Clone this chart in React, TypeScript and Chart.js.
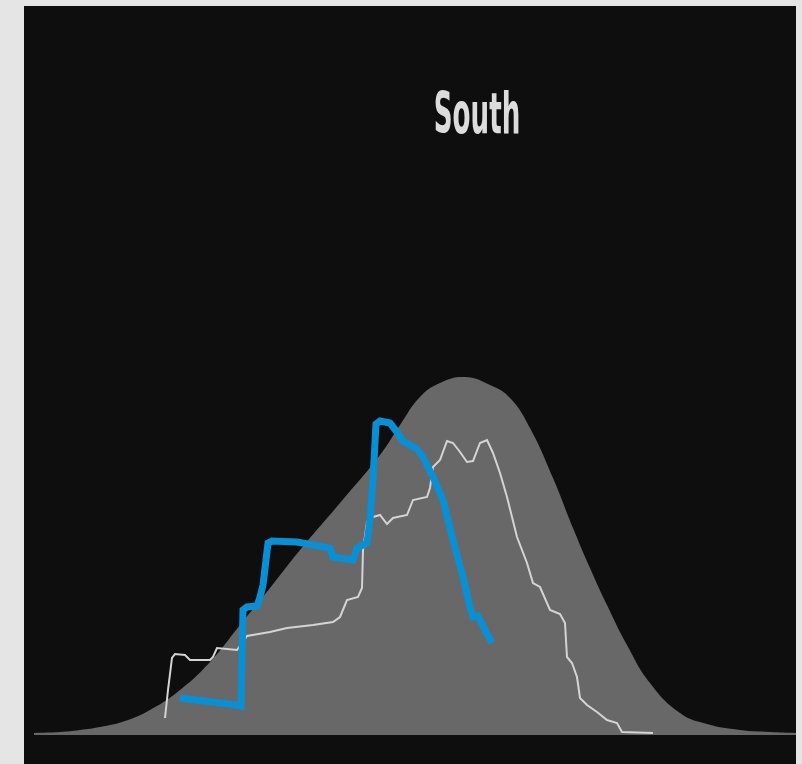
import React, { useEffect, useLayoutEffect, useRef } from 'react';
import { Chart, registerables } from 'chart.js';

Chart.register(...registerables);

// Title
const TITLE = 'South';

// Density (grey area) – x position and height
const densityX = [0, 26, 46, 66, 91, 116, 146, 176, 206, 236, 266, 306, 346, 366, 386, 406, 431, 456, 476, 496, 519, 539, 556, 573, 593, 616, 646, 673, 706, 736, 762];
const densityY = [2, 3, 5, 8, 14, 25, 45, 73, 110, 147, 185, 232, 280, 310, 338, 352, 358, 350, 337, 307, 257, 207, 167, 130, 90, 52, 22, 11, 5, 3, 2];

// Thin white series
const whiteX = [131, 134, 138, 141, 151, 156, 176, 179, 183, 203, 213, 236, 253, 279, 299, 306, 313, 324, 328, 329, 333, 339, 346, 353, 359, 373, 379, 393, 396, 399, 406, 413, 419, 426, 433, 439, 446, 453, 459, 466, 473, 483, 493, 499, 506, 516, 526, 531, 533, 538, 543, 546, 553, 563, 573, 583, 588, 619];
const whiteY = [17, 45, 77, 81, 80, 75, 75, 78, 87, 85, 99, 103, 107, 110, 113, 118, 135, 138, 147, 185, 213, 218, 220, 211, 217, 220, 235, 238, 247, 268, 275, 294, 292, 283, 273, 274, 292, 295, 282, 262, 238, 198, 172, 152, 148, 125, 121, 112, 78, 72, 58, 37, 30, 23, 15, 12, 3, 2];

// Thick blue series
const blueX = [146, 203, 207, 209, 213, 223, 226, 229, 232, 234, 238, 263, 296, 299, 319, 323, 333, 336, 339, 342, 346, 356, 363, 369, 383, 389, 399, 409, 419, 429, 436, 439, 444, 449, 458];
const blueY = [37, 30, 29, 125, 128, 129, 138, 150, 175, 192, 194, 193, 187, 178, 175, 187, 192, 215, 255, 311, 314, 312, 303, 294, 286, 278, 258, 235, 195, 158, 128, 118, 119, 109, 92];

const X_MIN = 0;
const X_MAX = 762;
const Y_MIN = 0;
const Y_MAX = 700;

const toPoints = (xs: number[], ys: number[]) => xs.map((x, i) => ({ x, y: ys[i] }));

const TITLE_FONT = '"Liberation Sans Narrow", "DejaVu Sans Condensed", "DejaVu Sans", sans-serif';

export default function App() {
  const canvasRef = useRef<HTMLCanvasElement | null>(null);
  const titleRef = useRef<HTMLDivElement | null>(null);

  useLayoutEffect(() => {
    const el = titleRef.current;
    if (!el) return;
    const ctx = document.createElement('canvas').getContext('2d')!;
    ctx.font = `bold 60px ${TITLE_FONT}`;
    const m = ctx.measureText(TITLE);
    const inkAsc = m.actualBoundingBoxAscent || 44;
    const fs = 60 * (43 / inkAsc);
    ctx.font = `bold ${fs}px ${TITLE_FONT}`;
    const m2 = ctx.measureText(TITLE);
    const inkW = (m2.actualBoundingBoxLeft + m2.actualBoundingBoxRight) || m2.width;
    const fAsc = (m2 as any).fontBoundingBoxAscent || fs * 0.9;
    const fDesc = (m2 as any).fontBoundingBoxDescent || fs * 0.25;
    const sx = 83 / inkW;
    el.style.fontSize = fs + 'px';
    el.style.lineHeight = fAsc + fDesc + 'px';
    el.style.top = 133 - fAsc + 'px';
    el.style.transform = `scaleX(${sx})`;
  }, []);

  useEffect(() => {
    const canvas = canvasRef.current;
    if (!canvas) return;
    const chart = new Chart(canvas, {
      type: 'line',
      data: {
        datasets: [
          {
            label: 'Blue',
            data: toPoints(blueX, blueY),
            borderColor: 'rgb(8,143,212)',
            borderWidth: 7,
            pointRadius: 0,
            tension: 0,
            fill: false,
            order: 0,
          },
          {
            label: 'White',
            data: toPoints(whiteX, whiteY),
            borderColor: 'rgb(212,212,212)',
            borderWidth: 2,
            pointRadius: 0,
            tension: 0,
            fill: false,
            order: 1,
          },
          {
            label: 'Density',
            data: toPoints(densityX, densityY),
            borderWidth: 0,
            borderColor: 'rgba(0,0,0,0)',
            backgroundColor: '#686868',
            pointRadius: 0,
            fill: 'origin',
            tension: 0.45,
            order: 2,
          },
        ],
      },
      options: {
        responsive: false,
        animation: false,
        events: [],
        layout: { padding: { left: 10, right: 0, top: 29, bottom: 29 } },
        scales: {
          x: { type: 'linear', min: X_MIN, max: X_MAX, display: false },
          y: { type: 'linear', min: Y_MIN, max: Y_MAX, display: false },
        },
        plugins: {
          legend: { display: false },
          tooltip: { enabled: false },
          title: { display: false },
        },
      },
    });
    return () => chart.destroy();
  }, []);

  return (
    <div
      style={{
        position: 'fixed',
        left: 0,
        top: 0,
        width: 802,
        height: 764,
        background: '#e5e5e5',
        overflow: 'hidden',
      }}
    >
      <div
        style={{
          position: 'absolute',
          left: 24,
          top: 6,
          width: 772,
          height: 758,
          background: '#0e0e0e',
        }}
      >
        <canvas ref={canvasRef} width={772} height={758} style={{ display: 'block', width: 772, height: 758 }} />
      </div>
      <div
        ref={titleRef}
        style={{
          position: 'absolute',
          left: 277,
          width: 400,
          top: 80,
          textAlign: 'center',
          fontFamily: TITLE_FONT,
          fontWeight: 'bold',
          color: '#dcdcdc',
          whiteSpace: 'nowrap',
          transformOrigin: 'center',
        }}
      >
        {TITLE}
      </div>
    </div>
  );
}
